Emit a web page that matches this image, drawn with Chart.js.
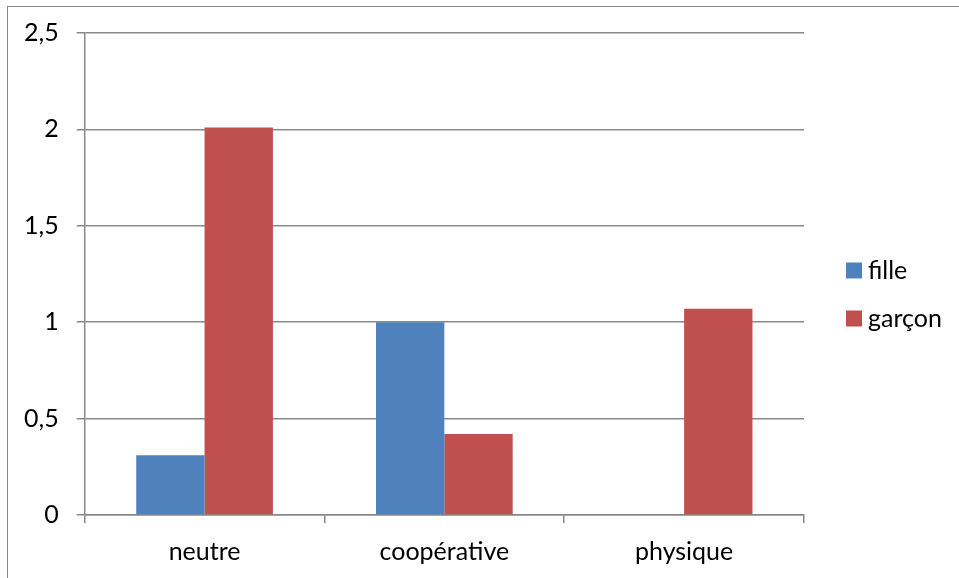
<!DOCTYPE html>
<html>
<head>
<meta charset="utf-8">
<script src="https://cdn.jsdelivr.net/npm/chart.js@4"></script>
<style>
    html, body { margin: 0; padding: 0; background: #fff; }
    #wrap { position: relative; width: 959px; height: 578px; overflow: hidden; }
    #frame { position: absolute; left: 7px; top: 6px; width: 980px; height: 620px; border: 1.5px solid #8a8a8a; box-sizing: border-box; }
    canvas { position: absolute; left: 0; top: 0; }
</style>
</head>
<body>
<div id="wrap">
    <div id="frame"></div>
    <canvas id="chart" width="959" height="578"></canvas>
</div>
<script>
// Données
const categories = ['neutre', 'coopérative', 'physique'];
const fille = [0.31, 1.0, 0];
const garcon = [2.01, 0.42, 1.07];
const yTickLabels = ['0', '0,5', '1', '1,5', '2', '2,5'];

const gridColor = '#888888';
const font = { family: 'Lato', size: 25 };

// légende à droite, dessinée à la main pour coller à la position d'origine
const sideLegend = {
    id: 'sideLegend',
    afterDraw(chart) {
        const c = chart.ctx;
        const area = chart.chartArea;
        const x = area.right + 42;
        let y = (area.top + area.bottom) / 2 - 3.5;
        c.save();
        c.font = font.size + 'px ' + font.family;
        c.textBaseline = 'middle';
        c.textAlign = 'left';
        chart.data.datasets.forEach(ds => {
            c.fillStyle = ds.backgroundColor;
            c.fillRect(x, y - 8, 16, 16);
            c.fillStyle = '#000';
            c.fillText(ds.label, x + 22, y);
            y += 48;
        });
        c.restore();
    }
};

const ctx = document.getElementById('chart').getContext('2d');
const chart = new Chart(ctx, {
    type: 'bar',
    data: {
        labels: categories,
        datasets: [{
            label: 'fille',
            data: fille,
            backgroundColor: '#4F81BD',
            categoryPercentage: 0.57,
            barPercentage: 1.0
        }, {
            label: 'garçon',
            data: garcon,
            backgroundColor: '#C0504D',
            categoryPercentage: 0.57,
            barPercentage: 1.0
        }]
    },
    options: {
        responsive: false,
        animation: false,
        devicePixelRatio: 1,
        layout: {
            padding: { left: 6, top: 27, right: 155, bottom: 0 }
        },
        plugins: {
            tooltip: { enabled: false },
            legend: { display: false }
        },
        scales: {
            x: {
                afterFit: (scale) => { scale.height = 63; },
                grid: {
                    drawOnChartArea: false,
                    drawTicks: true,
                    tickLength: 8,
                    color: gridColor,
                    lineWidth: 1.5,
                    offset: true
                },
                border: { color: gridColor, width: 1.5 },
                ticks: { color: '#000', font: font, padding: 14 }
            },
            y: {
                min: 0,
                max: 2.5,
                grid: {
                    color: gridColor,
                    lineWidth: 1.5,
                    tickLength: 8
                },
                border: { color: gridColor, width: 1.5 },
                ticks: {
                    stepSize: 0.5,
                    color: '#000',
                    font: font,
                    padding: 18,
                    callback: (value, index) => yTickLabels[index]
                }
            }
        }
    },
    plugins: [sideLegend]
});
</script>
</body>
</html>
